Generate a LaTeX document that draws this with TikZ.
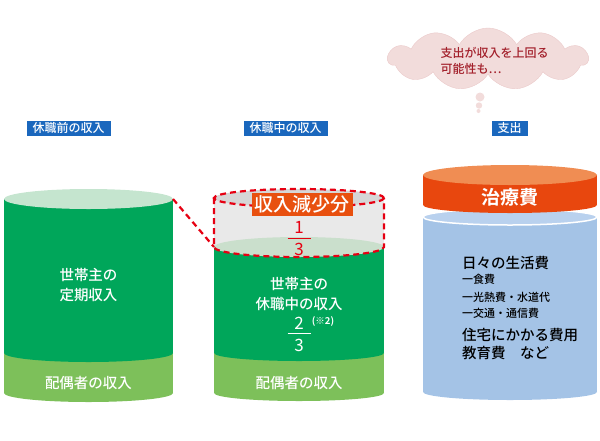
\documentclass[tikz,border=0pt]{standalone}
\usepackage{fontspec}
\setmainfont{Noto Sans CJK JP}
\newfontfamily\medfont{Noto Sans CJK JP}[UprightFont=* Medium, BoldFont=* Bold]
\usetikzlibrary{shapes.symbols}

\definecolor{lblblue}{HTML}{1A67BD}
\definecolor{dgreen}{HTML}{00A65A}
\definecolor{lgreen}{HTML}{7DC05A}
\definecolor{topgreen}{HTML}{C5E5CF}
\definecolor{topgreenB}{HTML}{CADFCC}
\definecolor{greyside}{HTML}{E9E9E9}
\definecolor{greytop}{HTML}{D6D6D6}
\definecolor{dashred}{HTML}{E60012}
\definecolor{cutorange}{HTML}{E8500F}
\definecolor{costorange}{HTML}{E8470E}
\definecolor{costtop}{HTML}{F08D53}
\definecolor{lifeblue}{HTML}{A4C3E6}
\definecolor{lifetop}{HTML}{B9D1EE}
\definecolor{cloudpink}{HTML}{F2DCDB}
\definecolor{cloudedge}{HTML}{EBCACA}
\definecolor{cloudtext}{HTML}{A3202B}

\tikzset{
  lbl/.style={fill=lblblue, text=white, inner xsep=6pt, inner ysep=0pt, minimum height=15pt,
    font=\medfont\fontsize{12}{12}\selectfont},
  wtext/.style={text=white, align=center, font=\medfont\fontsize{14.5}{20}\selectfont},
  digit/.style={inner sep=0pt, font=\fontsize{17}{17}\selectfont},
  reddash/.style={draw=dashred, line width=2.2pt, dash pattern=on 6pt off 4pt},
  lifebig/.style={anchor=west, inner sep=0pt, font=\medfont\fontsize{14.5}{18}\selectfont},
  lifesmall/.style={anchor=west, inner sep=0pt, font=\medfont\fontsize{11}{12}\selectfont},
}

\begin{document}
\begin{tikzpicture}[x=1pt, y=-1pt]
\useasboundingbox (0,0) rectangle (600,440);

% labels
\node[lbl] (lblBefore) at (68.5,128) {休職前の収入};
\node[lbl] (lblDuring) at (285.5,128) {休職中の収入};
\node[lbl] (lblSpend) at (509.5,128) {支出};

% before leave
\fill[lgreen] (4,353) rectangle (173,393);
\fill[lgreen] (88.5,393) ellipse [x radius=84.5, y radius=9];
\fill[dgreen] (4,199) rectangle (173,353);
\fill[dgreen] (88.5,353) ellipse [x radius=84.5, y radius=9];
\fill[topgreen] (88.5,199) ellipse [x radius=84.5, y radius=10];
\coordinate (cornerA) at (173,199);
\node[wtext] (mainA) at (88.5,285) {世帯主の\\定期収入};
\node[wtext] (spouseA) at (88.5,383) {配偶者の収入};

% during leave
\fill[greyside] (214,198) rectangle (384,247);
\fill[greytop] (299,198) ellipse [x radius=85, y radius=9];
\fill[lgreen] (214,353) rectangle (384,393);
\fill[lgreen] (299,393) ellipse [x radius=85, y radius=8];
\fill[dgreen] (214,247) rectangle (384,353);
\fill[dgreen] (299,353) ellipse [x radius=85, y radius=8];
\fill[topgreenB] (299,247) ellipse [x radius=85, y radius=10];
\draw[reddash] (299,198) ellipse [x radius=85, y radius=9];
\draw[reddash] (214,198) -- (214,247) arc [start angle=180, end angle=0, x radius=85, y radius=10] -- (384,198);
\coordinate (cornerB) at (214,247);
\draw[reddash] (cornerA) -- (cornerB);

\node[fill=cutorange, text=white, inner xsep=3pt, inner ysep=0pt, minimum height=23pt,
  font=\medfont\fontsize{19}{19}\selectfont] (cut) at (302,204.5) {収入減少分};
\node[digit, text=dashred] (cutNum) at (299,227) {1};
\node[digit, text=dashred] (cutDen) at (299,249) {3};
\draw[dashred, line width=1.2pt] ([xshift=-11.5pt, yshift=-5pt]cutNum.south) -- ([xshift=11.5pt, yshift=-5pt]cutNum.south);

\node[wtext] (mainB) at (299,293.5) {世帯主の\\休職中の収入};
\node[digit, text=white] (keepNum) at (299,323) {2};
\node[digit, text=white] (keepDen) at (299,345) {3};
\draw[white, line width=1.2pt] ([xshift=-11.5pt, yshift=-4pt]keepNum.south) -- ([xshift=11.5pt, yshift=-4pt]keepNum.south);
\node[text=white, inner sep=0pt, font=\medfont\bfseries\fontsize{9.5}{10}\selectfont] (note) at (323,321) {(※2)};
\node[wtext] (spouseB) at (299,383) {配偶者の収入};

% spending
\fill[lifeblue] (423,217) rectangle (597,392);
\fill[lifeblue] (510,392) ellipse [x radius=87, y radius=8];
\filldraw[fill=lifetop, draw=white, line width=1.5pt] (510,217) ellipse [x radius=87, y radius=8];
\fill[costorange] (423,175) rectangle (597,205);
\fill[costorange] (510,205) ellipse [x radius=87, y radius=8];
\fill[costtop] (510,175) ellipse [x radius=87, y radius=10];
\node[text=white, font=\medfont\bfseries\fontsize{19}{19}\selectfont] (cost) at (510,197) {治療費};

\node[lifebig] (daily) at (462,263) {日々の生活費};
\node[lifesmall] (food) at (462,279) {一食費};
\node[lifesmall] (energy) at (462,297) {一光熱費・水道代};
\node[lifesmall] (traffic) at (462,313) {一交通・通信費};
\node[lifebig] (house) at (462,335) {住宅にかかる費用};
\node[lifebig] (school) at (462,353) {教育費\quad など};

% thought cloud
\node[cloud, cloud puffs=11, cloud puff arc=120, cloud ignores aspect, fill=cloudpink, draw=cloudedge,
  minimum width=200pt, minimum height=62pt] (worry) at (488,59) {};
\fill[cloudpink] (480,97) circle (4.5);
\fill[cloudpink] (479,105.5) circle (3.2);
\fill[cloudpink] (478.5,111) circle (2);
\node[anchor=west, align=left, text=cloudtext, font=\medfont\fontsize{12}{16}\selectfont] (worryText) at (437,61) {支出が収入を上回る\\可能性も…};
\end{tikzpicture}
\end{document}
